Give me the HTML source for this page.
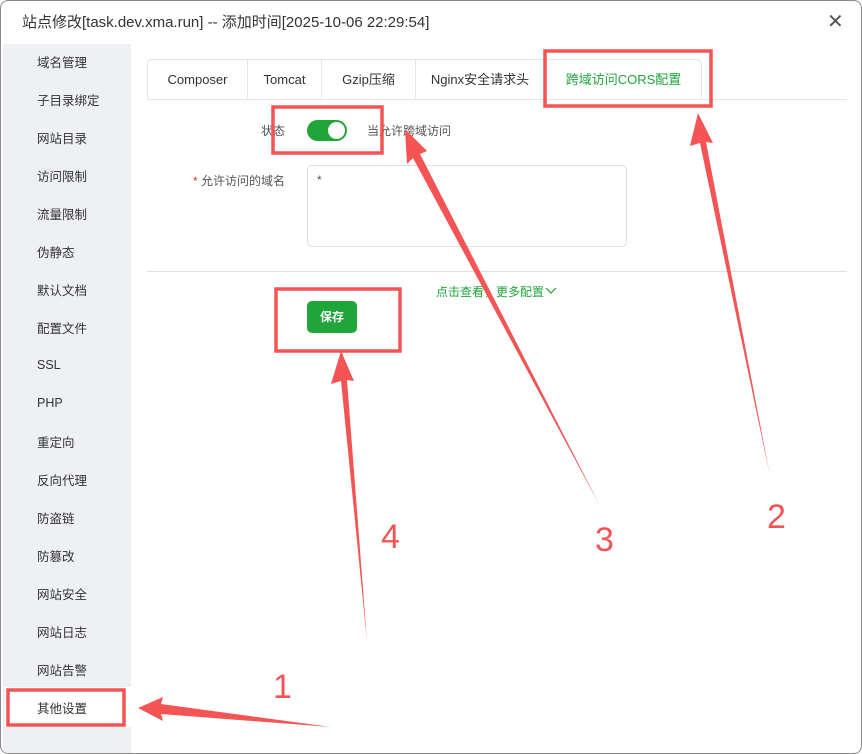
<!DOCTYPE html>
<html><head><meta charset="utf-8"><style>
*{margin:0;padding:0;box-sizing:border-box}
body{width:862px;height:754px;background:#fff;position:relative;overflow:hidden;font-family:"Liberation Sans","Noto Sans CJK SC",sans-serif;color:#333}
.win{position:absolute;left:0;top:0;width:862px;height:754px;border:1px solid #8a8a8a;border-radius:8px;background:#fff;overflow:hidden}
.title{position:absolute;left:21px;top:10px;font-size:15px;color:#333}
.close{position:absolute;left:826px;top:8px;font-size:20px;color:#555;font-weight:300}
.side{position:absolute;left:2px;top:43px;width:128px;height:711px;background:#eff0f4}
.side div{position:absolute;left:34px;font-size:12.5px;color:#333}
.abs{position:absolute}
.tabs{position:absolute;left:146px;top:58px;width:555px;height:41px;border:1px solid #e4e6ec;border-bottom:none;border-radius:4px 6px 0 0}
.tab{position:absolute;top:0;height:40px;line-height:40px;font-size:13px;color:#333;text-align:center;border-right:1px solid #e4e6ec}
</style></head><body>
<div class="win">
<div class="title">站点修改[task.dev.xma.run] -- 添加时间[2025-10-06 22:29:54]</div>
<div class="close">✕</div>
<div class="side">
<div style="top:8px">域名管理</div><div style="top:46px">子目录绑定</div><div style="top:84px">网站目录</div><div style="top:122px">访问限制</div><div style="top:160px">流量限制</div><div style="top:198px">伪静态</div><div style="top:236px">默认文档</div><div style="top:274px">配置文件</div><div style="top:314px">SSL</div><div style="top:352px">PHP</div><div style="top:388px">重定向</div><div style="top:426px">反向代理</div><div style="top:464px">防盗链</div><div style="top:502px">防篡改</div><div style="top:540px">网站安全</div><div style="top:578px">网站日志</div><div style="top:616px">网站告警</div>
</div>
<div class="abs" style="left:4px;top:686px;width:126px;height:40px;background:#fff"></div>
<div class="abs" style="left:36px;top:697px;font-size:12.5px">其他设置</div>

<div class="tabs">
<div class="tab" style="left:0;width:100px">Composer</div>
<div class="tab" style="left:100px;width:74px">Tomcat</div>
<div class="tab" style="left:174px;width:94px">Gzip压缩</div>
<div class="tab" style="left:268px;width:129px">Nginx安全请求头</div>
<div class="tab" style="left:397px;width:157px;color:#20a53a;border-right:none">跨域访问CORS配置</div>
</div>
<div class="abs" style="left:146px;top:98px;width:700px;height:1px;background:#e4e6ec"></div>
<div class="abs" style="left:260px;top:121px;font-size:12px;color:#555">状态</div>
<div class="abs" style="left:306px;top:119px;width:40px;height:21px;border-radius:11px;background:#20a53a"></div>
<div class="abs" style="left:327px;top:121px;width:17px;height:17px;border-radius:50%;background:#fff"></div>
<div class="abs" style="left:366px;top:121px;font-size:12px;color:#555">当允许跨域访问</div>
<div class="abs" style="left:192px;top:171px;font-size:12px;color:#555"><span style="color:#e33">*</span> 允许访问的域名</div>
<div class="abs" style="left:306px;top:164px;width:320px;height:82px;border:1px solid #dcdfe6;border-radius:5px"></div>
<div class="abs" style="left:316px;top:172px;font-size:12px;color:#555">*</div>
<div class="abs" style="left:146px;top:270px;width:700px;height:1px;background:#dcdfe6"></div>
<div class="abs" style="left:435px;top:282px;font-size:12px;color:#20a53a">点击查看，更多配置</div>
<svg class="abs" style="left:544px;top:286px" width="12" height="8"><polyline points="1,1 6,6 11,1" fill="none" stroke="#20a53a" stroke-width="1.2"/></svg>
<div class="abs" style="left:306px;top:300px;width:50px;height:32px;border-radius:5px;background:#20a53a;color:#fff;font-size:12px;font-weight:bold;line-height:32px;text-align:center">保存</div>

<svg class="abs" style="left:0;top:0" width="862" height="754">
<g fill="none" stroke="#f45454" stroke-width="3.5">
<rect x="544" y="50" width="166" height="55"/>
<rect x="272" y="106" width="109" height="46"/>
<rect x="275" y="288" width="124" height="62"/>
<rect x="7" y="689" width="116" height="35"/>
</g>
<g fill="#f45454">
<polygon points="137,707 162,696 160,703 330,726 160,713 162,720"/>
<polygon points="697,112 712,142 705,141 769,475 699,142 689,145"/>
<polygon points="404,128 426,150 419,153 599,505 412,157 406,163"/>
<polygon points="340,350 353,380 346,379 366,640 340,380 330,383"/>
</g>
<g fill="#f45454" font-family="Liberation Sans,sans-serif" font-size="34">
<text x="272" y="697">1</text><text x="766" y="527">2</text><text x="594" y="550">3</text><text x="380" y="547">4</text>
</g>
</svg>
</div>
</body></html>
